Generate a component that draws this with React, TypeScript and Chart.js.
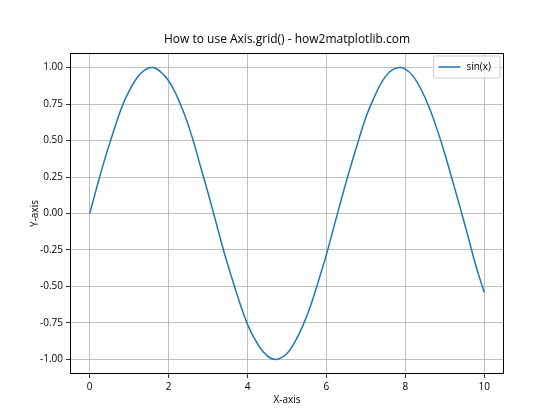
import React, { useEffect, useRef } from "react";
import { Chart, registerables } from "chart.js";

Chart.register(...registerables);

const xValues = [0, 0.2, 0.4, 0.6, 0.8, 1, 1.2, 1.4, 1.6, 1.8, 2, 2.2, 2.4, 2.6, 2.8, 3, 3.2, 3.4, 3.6, 3.8, 4, 4.2, 4.4, 4.6, 4.8, 5, 5.2, 5.4, 5.6, 5.8, 6, 6.2, 6.4, 6.6, 6.8, 7, 7.2, 7.4, 7.6, 7.8, 8, 8.2, 8.4, 8.6, 8.8, 9, 9.2, 9.4, 9.6, 9.8, 10];
const sinValues = [0, 0.2, 0.39, 0.56, 0.72, 0.84, 0.93, 0.985, 1.0, 0.97, 0.91, 0.81, 0.68, 0.52, 0.33, 0.14, -0.06, -0.26, -0.44, -0.61, -0.76, -0.87, -0.95, -0.994, -0.996, -0.96, -0.88, -0.77, -0.63, -0.46, -0.28, -0.08, 0.12, 0.31, 0.49, 0.66, 0.79, 0.9, 0.97, 0.999, 0.99, 0.94, 0.85, 0.73, 0.58, 0.41, 0.22, 0.03, -0.17, -0.37, -0.54];
const xTicks = [0, 2, 4, 6, 8, 10];
const yTicks = [-1, -0.75, -0.5, -0.25, 0, 0.25, 0.5, 0.75, 1];

const TITLE = "How to use Axis.grid() - how2matplotlib.com";
const SERIES = "sin(x)";
const FONT = "'Open Sans', 'DejaVu Sans', sans-serif";
const LINE_COLOR = "#1f77b4";

const framePlugin = {
  id: "frame",
  afterDraw(chart: any) {
    const { ctx, chartArea: a } = chart;
    ctx.save();
    ctx.strokeStyle = "#000";
    ctx.lineWidth = 1;
    ctx.strokeRect(Math.round(a.left) + 0.5, Math.round(a.top) + 0.5, Math.round(a.right - a.left) - 1, Math.round(a.bottom - a.top) - 1);
    ctx.fillStyle = "#000";
    ctx.font = `12px ${FONT}`;
    ctx.textAlign = "center";
    ctx.textBaseline = "middle";
    ctx.fillText(TITLE, (a.left + a.right) / 2, 40);
    ctx.font = `10px ${FONT}`;
    const tw = ctx.measureText(SERIES).width;
    const bw = tw + 42;
    const bx = a.right - 4 - bw;
    const by = a.top + 3;
    const bh = 22;
    ctx.fillStyle = "rgba(255,255,255,0.8)";
    ctx.strokeStyle = "#cccccc";
    ctx.beginPath();
    const r = 2;
    ctx.moveTo(bx + r, by);
    ctx.lineTo(bx + bw - r, by);
    ctx.quadraticCurveTo(bx + bw, by, bx + bw, by + r);
    ctx.lineTo(bx + bw, by + bh - r);
    ctx.quadraticCurveTo(bx + bw, by + bh, bx + bw - r, by + bh);
    ctx.lineTo(bx + r, by + bh);
    ctx.quadraticCurveTo(bx, by + bh, bx, by + bh - r);
    ctx.lineTo(bx, by + r);
    ctx.quadraticCurveTo(bx, by, bx + r, by);
    ctx.closePath();
    ctx.fill();
    ctx.stroke();
    ctx.strokeStyle = LINE_COLOR;
    ctx.lineWidth = 1.5;
    ctx.beginPath();
    ctx.moveTo(bx + 5, by + bh / 2);
    ctx.lineTo(bx + 27, by + bh / 2);
    ctx.stroke();
    ctx.fillStyle = "#000";
    ctx.textAlign = "left";
    ctx.fillText(SERIES, bx + 33, by + bh / 2);
    ctx.restore();
  },
};

export default function App() {
  const ref = useRef<HTMLCanvasElement | null>(null);
  useEffect(() => {
    document.body.style.margin = "0";
    const canvas = ref.current!;
    const chart = new Chart(canvas, {
      type: "line",
      data: {
        datasets: [
          {
            label: SERIES,
            data: xValues.map((x, i) => ({ x, y: sinValues[i] })),
            borderColor: LINE_COLOR,
            borderWidth: 1.5,
            pointRadius: 0,
            fill: false,
            tension: 0.4,
          },
        ],
      },
      options: {
        animation: false,
        responsive: false,
        devicePixelRatio: 1,
        layout: { padding: { left: 0, right: 56, top: 53, bottom: 0 } },
        plugins: { legend: { display: false }, title: { display: false }, tooltip: { enabled: false } },
        scales: {
          x: {
            type: "linear",
            min: -0.5,
            max: 10.5,
            afterBuildTicks: (s: any) => {
              s.ticks = xTicks.map((v) => ({ value: v }));
            },
            afterFit: (s: any) => {
              s.height = 46;
            },
            grid: { color: "#b0b0b0", lineWidth: 0.8, tickColor: "#000", tickLength: 4, drawOnChartArea: true },
            border: { display: false },
            ticks: { color: "#000", font: { family: FONT, size: 10 }, padding: 3, maxRotation: 0, callback: (v: any) => String(v) },
            title: { display: true, text: "X-axis", color: "#000", font: { family: FONT, size: 10 }, padding: { top: 0, bottom: 14 } },
          },
          y: {
            type: "linear",
            min: -1.1,
            max: 1.1,
            afterBuildTicks: (s: any) => {
              s.ticks = yTicks.map((v) => ({ value: v }));
            },
            afterFit: (s: any) => {
              s.width = 70;
            },
            grid: { color: "#b0b0b0", lineWidth: 0.8, tickColor: "#000", tickLength: 4 },
            border: { display: false },
            ticks: { color: "#000", font: { family: FONT, size: 10 }, padding: 3, callback: (v: any) => Number(v).toFixed(2) },
            title: { display: true, text: "Y-axis", color: "#000", font: { family: FONT, size: 10 }, padding: { top: 29, bottom: 0 } },
          },
        },
      },
      plugins: [framePlugin],
    } as any);
    return () => chart.destroy();
  }, []);
  return (
    <div style={{ position: "absolute", left: 0, top: 0, width: 560, height: 420, background: "#fff" }}>
      <canvas ref={ref} width={560} height={420} style={{ width: 560, height: 420 }} />
    </div>
  );
}
